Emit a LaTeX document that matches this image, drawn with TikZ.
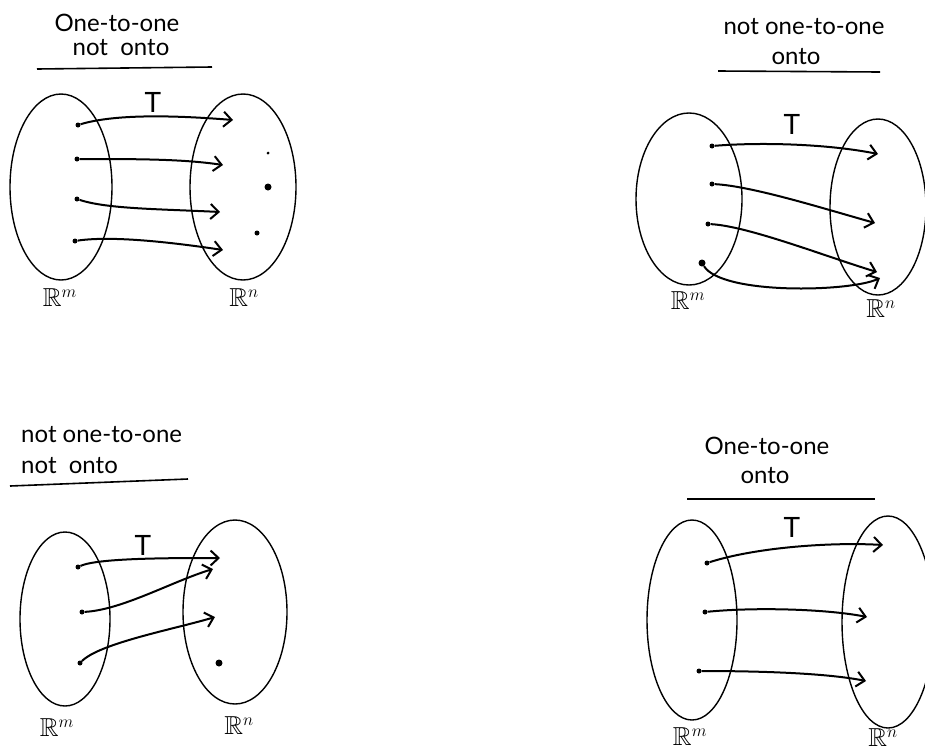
\documentclass[tikz,border=0pt]{standalone}
\usepackage{amssymb}
\usepackage{fontspec}
\setmainfont{Lato}
\usetikzlibrary{arrows.meta,shapes.geometric}
\begin{document}
\begin{tikzpicture}[x=1pt,y=-1pt,
  setshape/.style={ellipse, draw, line width=1.4pt, inner sep=0pt},
  mapline/.style={line width=2pt, -{Straight Barb[length=8pt,width=15pt,line width=2pt]}},
  pt/.style={circle, fill, inner sep=0pt, minimum size=5pt},
  bigpt/.style={circle, fill, inner sep=0pt, minimum size=7pt},
  ttl/.style={font=\fontsize{24}{26}\selectfont, inner sep=0pt},
  spc/.style={font=\fontsize{26}{28}\selectfont, inner sep=0pt},
  tee/.style={font=\fontsize{28}{30}\selectfont, inner sep=0pt},
  rule/.style={line width=1.6pt}]
\useasboundingbox (0,0) rectangle (925,750);

% ---------- panel 1: one-to-one, not onto ----------
\node[ttl] (t1a) at (117,23) {One-to-one};
\node[ttl] (t1b) at (121,48) {not\ \ onto};
\draw[rule] (37,69) -- (212,67);
\node[setshape, minimum width=102pt, minimum height=186pt] (A1) at (61,187) {};
\node[setshape, minimum width=106pt, minimum height=186pt] (B1) at (243,187) {};
\node[tee] (T1) at (153,102) {T};
\node[pt] (a1) at (78,125) {};
\node[pt] (a2) at (77,159) {};
\node[pt] (a3) at (77,199) {};
\node[pt] (a4) at (75,241) {};
\coordinate (e1) at (233,120);
\coordinate (e2) at (223,165);
\coordinate (e3) at (220,212);
\coordinate (e4) at (223,250);
\draw[mapline] (a1) .. controls +(40,-12) and +(-50,-4) .. (e1);
\draw[mapline] (a2) .. controls +(60,0) and +(-40,-6) .. (e2);
\draw[mapline] (a3) .. controls +(30,10) and +(-60,-3) .. (e3);
\draw[mapline] (a4) .. controls +(40,-6) and +(-40,-6) .. (e4);
\node[circle, fill, inner sep=0pt, minimum size=3pt] (p1) at (268,153) {};
\node[bigpt] (p2) at (268,187) {};
\node[pt] (p3) at (257,233) {};
\node[spc] (Rm1) at (60,298) {$\mathbb{R}^m$};
\node[spc] (Rn1) at (244,298) {$\mathbb{R}^n$};

% ---------- panel 2: not one-to-one, onto ----------
\node[ttl] (t2a) at (804,27) {not\ one-to-one};
\node[ttl] (t2b) at (796,57) {onto};
\draw[rule] (718,71) -- (880,72);
\node[setshape, minimum width=106pt, minimum height=172pt] (A2) at (689,199) {};
\node[setshape, minimum width=96pt, minimum height=176pt] (B2) at (878,207) {};
\node[tee] (T2) at (792,124) {T};
\node[pt] (b1) at (712,146) {};
\node[pt] (b2) at (712,184) {};
\node[pt] (b3) at (708,224) {};
\node[bigpt] (b4) at (702,263) {};
\coordinate (f1) at (878,154);
\coordinate (f2) at (875,223);
\coordinate (f3) at (877,272);
\coordinate (f4) at (880,278);
\draw[mapline] (b1) .. controls +(50,-4) and +(-50,-10) .. (f1);
\draw[mapline] (b2) .. controls +(40,2) and +(-50,-14) .. (f2);
\draw[mapline] (b3) .. controls +(40,2) and +(-50,-15) .. (f3);
\draw[mapline] (b4) .. controls +(20,32) and +(-30,14) .. (f4);
\node[spc] (Rm2) at (688,301) {$\mathbb{R}^m$};
\node[spc] (Rn2) at (881,309) {$\mathbb{R}^n$};

% ---------- panel 3: not one-to-one, not onto ----------
\node[ttl, anchor=west] (t3a) at (21,435) {not\ one-to-one};
\node[ttl, anchor=west] (t3b) at (21,466) {not\ \ onto};
\draw[rule] (10,486) -- (188,479);
\node[setshape, minimum width=90pt, minimum height=174pt] (A3) at (65,619) {};
\node[setshape, minimum width=104pt, minimum height=184pt] (B3) at (235,612) {};
\node[tee] (T3) at (143,545) {T};
\node[pt] (c1) at (78,567) {};
\node[pt] (c2) at (82,612) {};
\node[pt] (c3) at (80,663) {};
\coordinate (g1) at (220,558);
\coordinate (g2) at (213,569);
\coordinate (g3) at (215,617);
\draw[mapline] (c1) .. controls +(20,-9) and +(-50,0) .. (g1);
\draw[mapline] (c2) .. controls +(40,-2) and +(-40,12) .. (g2);
\draw[mapline] (c3) .. controls +(20,-20) and +(-40,12) .. (g3);
\node[bigpt] (q1) at (219,663) {};
\node[spc] (Rm3) at (57,728) {$\mathbb{R}^m$};
\node[spc] (Rn3) at (239,726) {$\mathbb{R}^n$};

% ---------- panel 4: one-to-one, onto ----------
\node[ttl] (t4a) at (767,446) {One-to-one};
\node[ttl] (t4b) at (765,476) {onto};
\draw[rule] (687,499) -- (875,499);
\node[setshape, minimum width=90pt, minimum height=200pt] (A4) at (692,620) {};
\node[setshape, minimum width=92pt, minimum height=212pt] (B4) at (888,622) {};
\node[tee] (T4) at (792,527) {T};
\node[pt] (d1) at (707,563) {};
\node[pt] (d2) at (705,612) {};
\node[pt] (d3) at (699,671) {};
\coordinate (h1) at (883,545);
\coordinate (h2) at (867,617);
\coordinate (h3) at (866,681);
\draw[mapline] (d1) .. controls +(50,-16) and +(-50,-3) .. (h1);
\draw[mapline] (d2) .. controls +(50,-5) and +(-40,-8) .. (h2);
\draw[mapline] (d3) .. controls +(60,0) and +(-40,-8) .. (h3);
\node[spc] (Rm4) at (690,737) {$\mathbb{R}^m$};
\node[spc] (Rn4) at (883,738) {$\mathbb{R}^n$};
\end{tikzpicture}
\end{document}
